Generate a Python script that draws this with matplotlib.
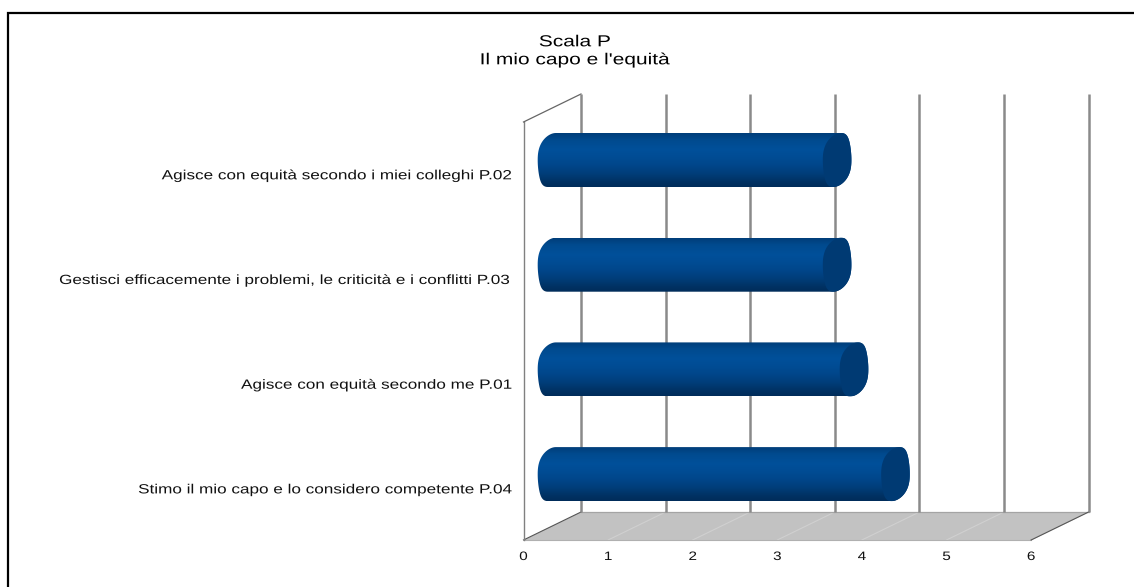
import numpy as np
import matplotlib
matplotlib.use("Agg")
import matplotlib.pyplot as plt
from matplotlib.patches import PathPatch, Polygon, Rectangle
from matplotlib.patheffects import AbstractPathEffect
from matplotlib.path import Path
from matplotlib.transforms import Affine2D

#-------------------------------------------------------------------------
#                               Data
#-------------------------------------------------------------------------
title_lines = ["Scala P", "Il mio capo e l'equità"]
labels = [
    "Agisce con equità secondo i miei colleghi P.02",
    "Gestisci efficacemente i problemi, le criticità e i conflitti P.03",
    "Agisce con equità secondo me P.01",
    "Stimo il mio capo e lo considero competente P.04",
]
values = [3.37, 3.37, 3.57, 4.06]
ticks = [0, 1, 2, 3, 4, 5, 6]

#-------------------------------------------------------------------------
#                               Layout
#-------------------------------------------------------------------------
W, H = 1134, 587
unit_x = 84.6       # pixels per value unit
unit_y = 104.7      # pixels per category
zero_x = 523.5      # front plane zero
first_y = 160.0     # centre of the first category
depth_x = 57.5 / unit_x
depth_y = 28.0 / unit_y
floor_y = (540 - first_y) / unit_y
top_y = (122 - first_y) / unit_y

# cylinder sits half way through the depth
mid_x = 28.5 / unit_x
cap_a = 14.3 / unit_x
cap_b = 27.0 / unit_y
cap_skew = 4.0 / unit_x

plt.rcParams["font.family"] = ["Liberation Sans", "DejaVu Sans"]
fig = plt.figure(figsize=(W / 100, H / 100), dpi=100)
ax = fig.add_axes([0, 0, 1, 1])
ax.set_xlim(-zero_x / unit_x, (W - zero_x) / unit_x)
ax.set_ylim((H - first_y) / unit_y, -first_y / unit_y)
ax.axis("off")


class StretchX(AbstractPathEffect):
    # widen glyphs horizontally around a fixed pixel column
    def __init__(self, anchor, factor):
        super().__init__()
        self.anchor = anchor
        self.factor = factor

    def draw_path(self, renderer, gc, tpath, affine, rgbFace=None):
        wide = affine + Affine2D().translate(-self.anchor, 0).scale(self.factor, 1).translate(self.anchor, 0)
        renderer.draw_path(gc, tpath, wide, rgbFace)


def ellipse(cx, cy, t):
    # rounded end of a cylinder, the shear only shows near the top and bottom
    c, s = np.cos(t), np.sin(t)
    x = np.sign(c) * np.abs(c) ** 0.92
    y = np.sign(s) * np.abs(s) ** 0.92
    return cx + cap_a * x - cap_skew * y ** 3, cy + cap_b * y


def closed_path(xs, ys):
    pts = np.column_stack([xs, ys])
    return Path(np.vstack([pts, pts[0]]), closed=True)


#-------------------------------------------------------------------------
#                           Frame, walls, floor
#-------------------------------------------------------------------------
frame = Rectangle((7.5 / W, -0.1), 1.2, 1.1 - 12.5 / H, transform=ax.transAxes,
                  fill=False, ec="black", lw=1.6, clip_on=True)
ax.add_patch(frame)

floor = Polygon([(0, floor_y), (depth_x, floor_y - depth_y),
                 (6 + depth_x, floor_y - depth_y), (6, floor_y)],
                closed=True, fc="#c2c2c2", ec="none", zorder=1)
ax.add_patch(floor)

for t in ticks[1:]:
    ax.plot([t, t + depth_x], [floor_y, floor_y - depth_y], color="#d0d0d0",
            lw=0.8, zorder=1.5)
ax.plot([0, 6], [floor_y, floor_y], color="#b0b0b0", lw=0.8, zorder=1.5)
ax.plot([depth_x, 6 + depth_x], [floor_y - depth_y, floor_y - depth_y],
        color="#a4a4a4", lw=0.9, zorder=1.5)
ax.plot([0, depth_x], [floor_y, floor_y - depth_y], color="#555555", lw=0.8, zorder=2)
ax.plot([6, 6 + depth_x], [floor_y, floor_y - depth_y], color="#555555", lw=0.8, zorder=2)

# side wall
ax.plot([0, 0], [floor_y, top_y], color="#808080", lw=1.0, zorder=2)
ax.plot([0, depth_x], [top_y, top_y - depth_y], color="#666666", lw=0.9, zorder=2)

# back wall grid lines
for t in ticks:
    ax.plot([t + depth_x, t + depth_x], [floor_y - depth_y, top_y - depth_y],
            color="#8a8a8a", lw=1.8, zorder=2, solid_capstyle="butt")

#-------------------------------------------------------------------------
#                               Cylinders
#-------------------------------------------------------------------------
shade = np.array([0.0, 0.12, 0.3, 0.45, 0.6, 0.75, 0.9, 1.0])
shade_r = np.array([0, 0, 0, 0, 0, 0, 0, 0]) / 255
shade_g = np.array([62, 74, 80, 76, 70, 62, 50, 44]) / 255
shade_b = np.array([122, 142, 154, 148, 138, 122, 100, 90]) / 255
pos = np.linspace(0, 1, 64)
grad = np.dstack([np.interp(pos, shade, shade_r),
                  np.interp(pos, shade, shade_g),
                  np.interp(pos, shade, shade_b)]).reshape(64, 1, 3)

ts_right = np.linspace(-np.pi / 2, np.pi / 2, 60)
ts_left = np.linspace(np.pi / 2, 3 * np.pi / 2, 60)
ts_full = np.linspace(0, 2 * np.pi, 120)

for i, v in enumerate(values):
    x0 = mid_x
    x1 = mid_x + v
    rx, ry = ellipse(x1, i, ts_right)
    lx, ly = ellipse(x0, i, ts_left)
    body = PathPatch(closed_path(np.r_[rx, lx], np.r_[ry, ly]), fc="none", ec="none", zorder=3)
    ax.add_patch(body)
    im = ax.imshow(grad, extent=(x0 - 2 * cap_a, x1 + 2 * cap_a, i + cap_b, i - cap_b),
                   aspect="auto", zorder=3, interpolation="bilinear")
    im.set_clip_path(body)
    cx, cy = ellipse(x1, i, ts_full)
    ax.fill(cx, cy, color="#003a73", lw=0, zorder=3.5)

ax.set_xlim(-zero_x / unit_x, (W - zero_x) / unit_x)
ax.set_ylim((H - first_y) / unit_y, -first_y / unit_y)

#-------------------------------------------------------------------------
#                               Text
#-------------------------------------------------------------------------
for i, lab in enumerate(labels):
    ax.text(-10.5 / unit_x, i + 16.3 / unit_y, lab, ha="right", va="center",
            fontsize=9.6, color="#111111", zorder=5,
            path_effects=[StretchX(513, 1.285)])

for t in ticks:
    ax.text(t, floor_y + 17 / unit_y, str(t), ha="center", va="center",
            fontsize=8.8, color="#111111", zorder=5,
            path_effects=[StretchX(zero_x + t * unit_x, 1.25)])

title_x = (575 - zero_x) / unit_x
ax.text(title_x, (41.8 - first_y) / unit_y, title_lines[0], ha="center", va="center",
        fontsize=11.5, color="black", path_effects=[StretchX(575, 1.31)])
ax.text(title_x, (59.8 - first_y) / unit_y, title_lines[1], ha="center", va="center",
        fontsize=11.5, color="black", path_effects=[StretchX(575, 1.31)])

fig.savefig("out.png", dpi=100)
